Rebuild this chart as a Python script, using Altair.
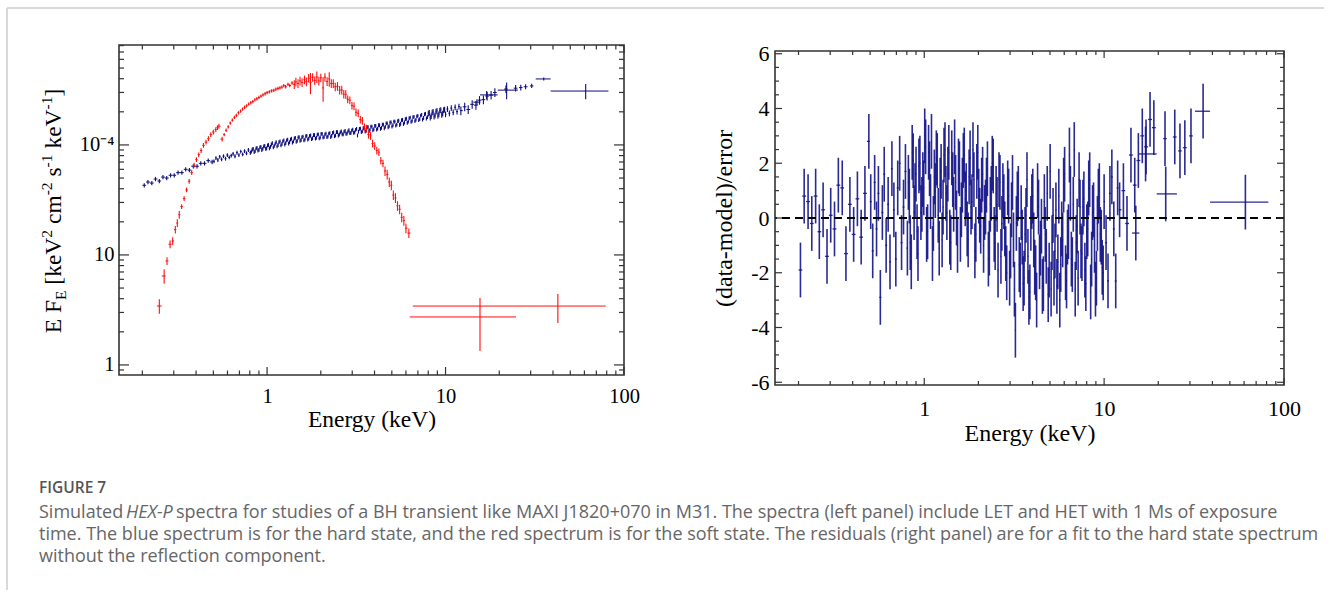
import altair as alt
import numpy as np
import pandas as pd

# ---------------- hard state (blue): LET bins ----------------
hard_E = [
    0.205, 0.215, 0.226, 0.237, 0.249, 0.261, 0.274, 0.288, 0.302, 0.317,
    0.333, 0.350, 0.367, 0.386, 0.405, 0.425, 0.446, 0.468, 0.492,
    0.504, 0.517, 0.530, 0.543, 0.556, 0.570, 0.585, 0.599, 0.614, 0.630,
    0.645, 0.661, 0.678, 0.695, 0.712, 0.730, 0.748, 0.767, 0.786, 0.806,
    0.826, 0.847, 0.868, 0.889, 0.912, 0.934, 0.958, 0.982, 1.006, 1.031,
    1.057, 1.084, 1.111, 1.138, 1.167, 1.196, 1.226, 1.257, 1.288, 1.320,
    1.353, 1.387, 1.422, 1.457, 1.494, 1.531, 1.569, 1.609, 1.649, 1.690,
    1.732, 1.776, 1.820, 1.866, 1.912, 1.960, 2.009, 2.059, 2.111, 2.164,
    2.218, 2.273, 2.330, 2.388, 2.448, 2.509, 2.572, 2.636, 2.702, 2.770,
    2.839, 2.910, 2.983, 3.057, 3.134, 3.212, 3.292, 3.375, 3.459, 3.546,
    3.634, 3.725, 3.818, 3.914, 4.012, 4.112, 4.215, 4.320, 4.428, 4.539,
    4.652, 4.769, 4.888, 5.010, 5.136, 5.264, 5.396, 5.531, 5.669, 5.810,
    5.956, 6.105, 6.257, 6.414, 6.574, 6.738, 6.907, 7.080, 7.257, 7.438,
    7.624, 7.815, 8.010, 8.210, 8.416, 8.626, 8.842, 9.063, 9.289, 9.521,
    9.759, 10.00, 10.25, 10.51, 10.77, 11.04, 11.32, 11.60, 11.89, 12.19,
    12.8, 13.4, 14.1, 14.8, 15.5, 16.3, 17.1, 18.0, 18.9,
]
# E F_E in units of 1e-4 keV^2 cm^-2 s^-1 keV^-1
hard_F = [
    0.43, 0.46, 0.45, 0.49, 0.47, 0.51, 0.50, 0.53, 0.53, 0.56,
    0.56, 0.60, 0.59, 0.64, 0.64, 0.68, 0.68, 0.72, 0.70,
    0.71, 0.76, 0.73, 0.78, 0.74, 0.79, 0.75, 0.81, 0.77, 0.80,
    0.83, 0.79, 0.85, 0.81, 0.87, 0.82, 0.88, 0.84, 0.90, 0.85,
    0.91, 0.86, 0.93, 0.89, 0.95, 0.90, 0.97, 0.92, 0.99, 0.93,
    1.01, 0.95, 1.03, 0.97, 1.06, 0.99, 1.08, 1.01, 1.10, 1.03,
    1.12, 1.05, 1.15, 1.07, 1.17, 1.09, 1.18, 1.10, 1.20, 1.12,
    1.21, 1.13, 1.23, 1.14, 1.24, 1.15, 1.26, 1.17, 1.25, 1.18,
    1.27, 1.18, 1.29, 1.20, 1.31, 1.22, 1.30, 1.25, 1.32, 1.26,
    1.33, 1.28, 1.35, 1.29, 1.37, 1.22, 1.40, 1.31, 1.42, 1.32,
    1.45, 1.34, 1.47, 1.36, 1.49, 1.38, 1.51, 1.40, 1.53, 1.42,
    1.57, 1.45, 1.60, 1.47, 1.63, 1.50, 1.65, 1.52, 1.68, 1.55,
    1.72, 1.59, 1.75, 1.62, 1.79, 1.65, 1.82, 1.68, 1.85, 1.70,
    1.90, 1.74, 1.93, 1.77, 1.97, 1.81, 2.01, 1.84, 2.05, 1.88,
    2.08, 1.90, 2.12, 1.94, 2.16, 1.98, 2.20, 2.01, 2.23, 2.05,
    2.22, 2.10, 2.34, 2.30, 2.55, 2.58, 2.78, 2.84, 3.00,
]
# residuals (data-model)/error for the same bins
hard_res = [
    -1.9, 0.8, 0.6, -0.2, 0.8, -0.5, 0.3, -1.4, 0.1, -0.4,
    1.2, 1.1, -1.3, 0.5, -0.6, 0.7, -0.7, 0.9, 2.8,
    0.6, -1.2, 1.3, -0.4, 0.9, -2.9, 0.2, 1.6, -1.0, 0.5,
    -1.6, 1.8, 0.3, -1.5, 1.1, 2.0, -0.9, 0.4, 1.7, -1.1,
    0.8, -1.6, 2.1, 1.0, -0.5, 1.9, 0.2, 1.4, 3.0, -0.6,
    2.4, 0.6, -1.3, 1.5, 2.2, 0.1, 1.2, -0.8, 2.3, 0.9,
    1.6, -0.7, 2.2, 0.5, 1.3, -1.0, 1.8, 0.3, 2.1, 0.7,
    -0.4, 1.5, 0.4, 2.5, -1.2, 1.7, 0.8, -0.3, 1.6, 0.2,
    1.2, -1.5, 0.5, 2.0, -0.6, 0.9, -1.9, 1.3, -0.2, 0.6,
    -1.3, 1.1, -2.2, 0.3, -0.8, -4.1, 0.7, -1.7, 0.2, -2.4,
    -0.6, 1.4, -2.9, -0.2, 0.8, -1.8, -3.0, 0.4, -1.1, -2.5,
    0.6, -1.4, -2.8, 1.7, -0.9, -2.2, 0.3, -1.6, -3.0, -0.4,
    1.2, -2.0, -0.7, 2.3, -1.5, 0.5, -2.6, -0.3, 1.4, -1.2,
    0.4, -1.9, -0.5, 1.1, -2.7, 0.2, -1.0, -2.2, 0.8, -0.6,
    -1.8, 0.6, -0.9, -2.3, 0.9, 1.5, -0.4, -2.3, 1.1, 0.3,
    1.0, -0.2, 2.3, 1.2, 2.1, 3.0, 2.6, 3.6, 3.3,
]
# second interleaved set of LET bins (densest part of the spectrum)
hard_E2 = [
    0.816, 0.836, 0.857, 0.878, 0.900, 0.923, 0.946, 0.970, 0.994, 1.018,
    1.044, 1.070, 1.097, 1.124, 1.152, 1.181, 1.211, 1.241, 1.272, 1.304,
    1.336, 1.370, 1.404, 1.440, 1.475, 1.512, 1.550, 1.589, 1.629, 1.669,
    1.711, 1.754, 1.798, 1.843, 1.889, 1.936, 1.984, 2.034, 2.085, 2.137,
    2.191, 2.245, 2.301, 2.359, 2.418, 2.478, 2.540, 2.604, 2.669, 2.736,
    2.804, 2.874, 2.946, 3.020, 3.095, 3.173, 3.252, 3.333, 3.417, 3.502,
    3.590, 3.679, 3.771, 3.866, 3.963, 4.062, 4.163, 4.267, 4.374, 4.483,
    4.595, 4.710, 4.828, 4.949, 5.073, 5.200, 5.330, 5.463, 5.600, 5.740,
    5.883, 6.030, 6.181, 6.335, 6.494, 6.656, 6.822, 6.993, 7.168, 7.347,
    7.531, 7.719, 7.912, 8.110, 8.313, 8.521, 8.734, 8.952, 9.176, 9.405,
    9.640, 9.880,
]
hard_F2 = [
    0.87, 0.92, 0.88, 0.94, 0.90, 0.96, 0.92, 0.98, 0.93, 1.00,
    0.96, 1.04, 0.98, 1.06, 1.00, 1.08, 1.02, 1.10, 1.04, 1.12,
    1.06, 1.14, 1.08, 1.16, 1.09, 1.18, 1.11, 1.19, 1.12, 1.21,
    1.14, 1.22, 1.15, 1.23, 1.16, 1.25, 1.17, 1.26, 1.18, 1.27,
    1.19, 1.28, 1.21, 1.30, 1.22, 1.31, 1.24, 1.33, 1.25, 1.34,
    1.27, 1.36, 1.28, 1.38, 1.30, 1.40, 1.32, 1.41, 1.33, 1.43,
    1.35, 1.45, 1.37, 1.47, 1.39, 1.49, 1.41, 1.51, 1.43, 1.53,
    1.46, 1.57, 1.48, 1.60, 1.51, 1.63, 1.53, 1.66, 1.56, 1.69,
    1.60, 1.73, 1.63, 1.77, 1.66, 1.80, 1.69, 1.84, 1.72, 1.88,
    1.76, 1.92, 1.79, 1.96, 1.83, 2.00, 1.86, 2.04, 1.90, 2.08,
    1.93, 2.10,
]
hard_res2 = [
    1.3, -0.9, 2.4, 0.2, 1.6, -1.3, 2.0, 0.5, 1.1, 2.6,
    -0.5, 1.8, 2.8, -0.2, 1.0, 2.1, -1.1, 1.7, 0.4, 2.5,
    0.2, 2.4, -0.9, 1.4, 2.6, 0.0, 1.9, -0.6, 1.2, 2.3,
    1.0, -0.8, 2.2, 0.6, 1.4, -0.6, 2.4, 0.1, 1.2, -1.0,
    0.4, 1.8, -1.1, 0.9, 1.9, -0.9, 0.5, 1.4, -1.4, 1.0,
    -0.4, -2.0, 0.8, -1.2, 1.3, -2.6, -0.2, 0.9, -1.9, -0.7,
    -2.2, 0.1, -1.4, -2.7, 0.6, -0.8, -2.0, 1.0, -1.6, -0.3,
    -2.4, -0.6, 0.9, -1.9, -2.6, 0.1, -1.2, -2.5, 0.8, -1.7,
    -0.8, 1.6, -2.3, -0.5, 0.9, -1.7, 2.5, -0.9, -2.2, 0.4,
    -1.3, 0.7, -2.4, -0.4, 1.4, -1.5, 0.3, -2.6, -0.2, 1.0,
    -0.7, -2.0,
]
# fractional flux errors of the blue spectrum by energy range
hard_err_edges = [0.5, 8.0, 12.0]
hard_err_vals = [0.045, 0.04, 0.06, 0.09]

# hard state: wide high-energy (HET) bins
hard_het_E = [15.0, 17.0, 22.0, 21.8, 24.7, 26.4, 28.1, 30.4, 35.5, 61.0]
hard_het_lo = [14.3, 15.6, 19.6, 21.3, 24.1, 25.8, 27.4, 29.7, 32.0, 38.8]
hard_het_hi = [15.7, 19.6, 25.4, 22.3, 25.3, 27.0, 28.8, 31.1, 38.8, 81.8]
hard_het_F = [2.45, 2.85, 3.15, 3.22, 3.28, 3.32, 3.38, 3.44, 3.98, 3.09]
hard_het_Ferr = [0.15, 0.25, 0.55, 0.25, 0.22, 0.20, 0.18, 0.15, 0.12, 0.49]
hard_het_res = [-0.55, 2.34, 0.88, 2.9, 2.96, 2.45, 2.57, 3.0, 3.9, 0.58]

# ---------------- soft state (red) ----------------
soft_E = [
    0.249, 0.265, 0.275, 0.286, 0.296, 0.306, 0.314, 0.322, 0.332, 0.343,
    0.354, 0.366, 0.378, 0.390, 0.402, 0.414, 0.427, 0.440, 0.455, 0.469,
    0.484, 0.500, 0.516, 0.527, 0.537,
    0.560, 0.575, 0.590, 0.606, 0.622, 0.639, 0.656, 0.673, 0.691, 0.710,
    0.729, 0.748, 0.768, 0.789, 0.810, 0.832, 0.854, 0.877, 0.900, 0.924,
    0.949, 0.975, 1.00, 1.03, 1.06, 1.09, 1.12, 1.15, 1.18, 1.21,
    1.24, 1.27, 1.31, 1.34, 1.38, 1.42, 1.45, 1.49, 1.53, 1.57,
    1.62, 1.66, 1.71, 1.75, 1.80, 1.85, 1.90, 1.95, 2.00, 2.06,
    2.11, 2.17, 2.23, 2.29, 2.35, 2.41, 2.48, 2.55, 2.62, 2.69,
    2.76, 2.83, 2.91, 2.99, 3.07, 3.15, 3.24, 3.33, 3.42, 3.51,
    3.60, 3.70, 3.80, 3.90, 4.01, 4.12, 4.23, 4.34, 4.46, 4.58,
    4.71, 4.84, 4.97, 5.10, 5.24, 5.38, 5.53, 5.68, 5.84, 6.00,
    6.23,
]
soft_F = [
    0.0343, 0.0644, 0.088, 0.125, 0.134, 0.170, 0.195, 0.232, 0.275, 0.325,
    0.390, 0.468, 0.560, 0.655, 0.735, 0.815, 0.890, 0.990, 1.06, 1.14,
    1.24, 1.31, 1.38, 1.44, 1.48,
    1.13, 1.24, 1.36, 1.46, 1.58, 1.68, 1.78, 1.86, 1.96, 2.03,
    2.12, 2.20, 2.27, 2.35, 2.42, 2.48, 2.57, 2.63, 2.70, 2.78,
    2.85, 2.92, 2.99, 3.04, 3.10, 3.14, 3.21, 3.26, 3.30, 3.36,
    3.46, 3.38, 3.56, 3.47, 3.66, 3.55, 3.74, 3.62, 3.82, 3.70,
    3.92, 3.76, 4.05, 3.70, 4.12, 3.85, 4.15, 3.82, 4.08, 3.30,
    4.12, 3.78, 3.98, 3.62, 3.62, 3.38, 3.42, 3.15, 3.16, 2.90,
    2.88, 2.60, 2.55, 2.28, 2.25, 1.98, 1.94, 1.70, 1.66, 1.46,
    1.41, 1.24, 1.21, 1.03, 0.98, 0.89, 0.86, 0.72, 0.68, 0.58,
    0.54, 0.46, 0.43, 0.35, 0.33, 0.28, 0.26, 0.22, 0.205, 0.175,
    0.158,
]
soft_err_edges = [0.27, 0.33, 0.56, 1.4, 2.8, 4.5]
soft_err_vals = [0.15, 0.08, 0.05, 0.035, 0.09, 0.08, 0.10]
soft_err_special_E = [1.75, 1.90, 2.06, 2.23]
soft_err_special = [0.22, 0.12, 0.25, 0.15]

soft_het_E = [15.6, 42.6]
soft_het_lo = [6.3, 6.56]
soft_het_hi = [24.8, 79.0]
soft_het_F = [0.0273, 0.0343]
soft_het_Flo = [0.0134, 0.0241]
soft_het_Fhi = [0.0407, 0.0442]

# ---------------- axes ----------------
x_major = [1, 10, 100]
x_minor = [0.2, 0.3, 0.4, 0.5, 0.6, 0.7, 0.8, 0.9, 2, 3, 4, 5, 6, 7, 8, 9,
           20, 30, 40, 50, 60, 70, 80, 90]
ly_major = [1e-6, 1e-5, 1e-4]
ly_minor = [9e-7, 2e-6, 3e-6, 4e-6, 5e-6, 6e-6, 7e-6, 8e-6, 9e-6,
            2e-5, 3e-5, 4e-5, 5e-5, 6e-5, 7e-5, 8e-5, 9e-5,
            2e-4, 3e-4, 4e-4, 5e-4, 6e-4, 7e-4, 8e-4]
ly_label_expr = "datum.value < 3e-6 ? '1' : datum.value < 3e-5 ? '10' : '10⁻⁴'"
ry_major = [-6, -4, -2, 0, 2, 4, 6]
ry_minor = [-5.5, -5, -4.5, -3.5, -3, -2.5, -1.5, -1, -0.5,
            0.5, 1, 1.5, 2.5, 3, 3.5, 4.5, 5, 5.5]

caption_head = "FIGURE 7"
caption_l1a = "Simulated"
caption_l1b = "HEX-P"
caption_l1c = ("spectra for studies of a BH transient like MAXI J1820+070 in M31. "
               "The spectra (left panel) include LET and HET with 1 Ms of exposure")
caption_l2 = ("time. The blue spectrum is for the hard state, and the red spectrum is for the "
              "soft state. The residuals (right panel) are for a fit to the hard state spectrum")
caption_l3 = "without the reflection component."


# ---------------- helpers ----------------
def bin_edges(E):
    lg = np.log10(np.asarray(E, dtype=float))
    mid = (lg[1:] + lg[:-1]) / 2
    lo = np.concatenate([[lg[0] - (mid[0] - lg[0])], mid])
    hi = np.concatenate([mid, [lg[-1] + (lg[-1] - mid[-1])]])
    return 10 ** lo, 10 ** hi


def seg_err(E, edges, vals):
    idx = np.searchsorted(edges, np.asarray(E, dtype=float))
    return np.asarray(vals)[idx]


SERIF = "Liberation Serif"
BLUE = "#0c0c7e"
RES_BLUE = "#131388"
RED = "#ff0d0d"
TICK = "#333333"

let_df = pd.DataFrame({"E": hard_E + hard_E2, "F": hard_F + hard_F2,
                       "r": hard_res + hard_res2}).sort_values("E").reset_index(drop=True)
lo, hi = bin_edges(let_df["E"])
rel = seg_err(let_df["E"], hard_err_edges, hard_err_vals)
F = let_df["F"].to_numpy() * 1e-4
hard_df = pd.DataFrame({"E": let_df["E"], "lo": lo, "hi": hi, "F": F,
                        "Flo": F * (1 - rel), "Fhi": F * (1 + rel),
                        "r": let_df["r"]})
hard_df["rlo"] = hard_df["r"] - 1
hard_df["rhi"] = hard_df["r"] + 1
hF = np.asarray(hard_het_F) * 1e-4
hE = np.asarray(hard_het_Ferr) * 1e-4
het_df = pd.DataFrame({"E": hard_het_E, "lo": hard_het_lo, "hi": hard_het_hi,
                       "F": hF, "Flo": hF - hE, "Fhi": hF + hE, "r": hard_het_res})
het_df["rlo"] = het_df["r"] - 1
het_df["rhi"] = het_df["r"] + 1
blue_all = pd.concat([hard_df, het_df], ignore_index=True)

slo, shi = bin_edges(soft_E)
srel = seg_err(soft_E, soft_err_edges, soft_err_vals)
for e_sp, r_sp in zip(soft_err_special_E, soft_err_special):
    srel = np.where(np.isclose(soft_E, e_sp), r_sp, srel)
sF = np.asarray(soft_F) * 1e-4
soft_df = pd.DataFrame({"E": soft_E, "lo": slo, "hi": shi, "F": sF,
                        "Flo": sF * (1 - srel), "Fhi": sF * (1 + srel)})
soft_het_df = pd.DataFrame({"E": soft_het_E, "lo": soft_het_lo, "hi": soft_het_hi,
                            "F": np.asarray(soft_het_F) * 1e-4,
                            "Flo": np.asarray(soft_het_Flo) * 1e-4,
                            "Fhi": np.asarray(soft_het_Fhi) * 1e-4})
red_all = pd.concat([soft_df, soft_het_df], ignore_index=True)

DUMMY = alt.Data(values=[{}])

# ---------------- left panel ----------------
WL, HL = 505, 330
lxs = alt.Scale(type="log", domain=[0.148, 100], nice=False)
lys = alt.Scale(type="log", domain=[8.1e-7, 8.1e-4], nice=False)
lx_axis = alt.Axis(values=x_major, format="~g", ticks=False, tickSize=0, domain=False,
                   grid=False, labelFont=SERIF, labelFontSize=20.5, labelColor="black",
                   labelPadding=11, labelFlush=False, labelOverlap=False,
                   title="Energy (keV)", titleFont=SERIF, titleFontSize=23.5,
                   titleFontWeight="normal", titleColor="black", titlePadding=1)
ly_axis = alt.Axis(values=ly_major, labelExpr=ly_label_expr, ticks=False, tickSize=0,
                   domain=False, grid=False, labelFont=SERIF, labelFontSize=20.5,
                   labelColor="black", labelPadding=5, labelFlush=False,
                   labelOverlap=False, title=None)


def spectrum_layers(df, color, xs, ys, xa, ya):
    base = alt.Chart(df)
    h = base.mark_rule(color=color, strokeWidth=1, clip=True).encode(
        x=alt.X("lo:Q", scale=xs, axis=xa), x2="hi:Q",
        y=alt.Y("F:Q", scale=ys, axis=ya))
    v = base.mark_rule(color=color, strokeWidth=1.1, clip=True).encode(
        x=alt.X("E:Q", scale=xs, axis=xa),
        y=alt.Y("Flo:Q", scale=ys, axis=ya), y2="Fhi:Q")
    return [h, v]


def tick_layers(xvals_major, xvals_minor, yvals_major, yvals_minor, xs, ys, xa, ya,
                W, H, xmaj, xmin, ymaj, ymin):
    out = []
    for vals, ln in ((xvals_major, xmaj), (xvals_minor, xmin)):
        d = alt.Chart(pd.DataFrame({"v": vals})).mark_rule(color=TICK, strokeWidth=1.2)
        out.append(d.encode(x=alt.X("v:Q", scale=xs, axis=xa),
                            y=alt.value(H), y2=alt.value(H - ln)))
        out.append(d.encode(x=alt.X("v:Q", scale=xs, axis=xa),
                            y=alt.value(0), y2=alt.value(ln)))
    for vals, ln in ((yvals_major, ymaj), (yvals_minor, ymin)):
        d = alt.Chart(pd.DataFrame({"v": vals})).mark_rule(color=TICK, strokeWidth=1.2)
        out.append(d.encode(y=alt.Y("v:Q", scale=ys, axis=ya),
                            x=alt.value(0), x2=alt.value(ln)))
        out.append(d.encode(y=alt.Y("v:Q", scale=ys, axis=ya),
                            x=alt.value(W - ln), x2=alt.value(W)))
    return out


# composed y-axis title with sub/superscripts (Times metrics)
TIMES = {" ": 250, "E": 611, "F": 556, "[": 333, "]": 333, "k": 500, "e": 444,
         "V": 722, "c": 444, "m": 778, "s": 389, "-": 333, "1": 500, "2": 500}


def tw(s, size):
    return sum(TIMES.get(c, 500) for c in s) / 1000 * size


MAIN, SMALL = 23.5, 15.5
ytitle_parts = [("E F", "m"), ("E", "b"), (" [keV", "m"), ("2", "p"), (" cm", "m"),
                ("-2", "p"), (" s", "m"), ("-1", "p"), (" keV", "m"), ("-1", "p"), ("]", "m")]
sizes = {"m": MAIN, "b": SMALL, "p": SMALL}
shifts = {"m": 0, "b": 5, "p": -9}
total = sum(tw(t, sizes[k]) for t, k in ytitle_parts)
cursor = 166 + total / 2
base_x = -58.5
title_layers = []
for t, k in ytitle_parts:
    sz = sizes[k]
    if t.startswith(" "):
        cursor -= tw(" ", sz)
        t = t.lstrip()
    title_layers.append(
        alt.Chart(DUMMY).mark_text(text=t, angle=270, align="left", baseline="alphabetic",
                                   font=SERIF, fontSize=sz, color="black")
        .encode(x=alt.value(base_x + shifts[k]), y=alt.value(cursor)))
    cursor -= tw(t, sz)

# caption and page frame (drawn relative to the left panel origin)
CAP = "Open Sans"
cap_specs = [
    (caption_head, -80, 443, 15.5, "normal", 600, "#555555"),
    (caption_l1a, -80, 468, 18, "normal", 400, "#666666"),
    (caption_l1b, 7, 468, 18, "italic", 400, "#666666"),
    (caption_l1c, 57, 468, 18, "normal", 400, "#666666"),
    (caption_l2, -80, 490, 18, "normal", 400, "#666666"),
    (caption_l3, -80, 512, 18, "normal", 400, "#666666"),
]
caption_layers = [
    alt.Chart(DUMMY).mark_text(text=t, align="left", baseline="middle", font=CAP,
                               fontSize=fs, fontStyle=st, fontWeight=fw, color=col)
    .encode(x=alt.value(x), y=alt.value(y))
    for t, x, y, fs, st, fw, col in cap_specs
]
frame_layers = [
    alt.Chart(DUMMY).mark_rule(color="#cccccc", strokeWidth=1.5)
    .encode(x=alt.value(-112), x2=alt.value(1205), y=alt.value(-37)),
    alt.Chart(DUMMY).mark_rule(color="#cccccc", strokeWidth=1.5)
    .encode(x=alt.value(-112), y=alt.value(-37), y2=alt.value(545)),
]

left = alt.layer(
    *spectrum_layers(blue_all, BLUE, lxs, lys, lx_axis, ly_axis),
    *spectrum_layers(red_all, RED, lxs, lys, lx_axis, ly_axis),
    *tick_layers(x_major, x_minor, ly_major, ly_minor, lxs, lys, lx_axis, ly_axis,
                 WL, HL, 8, 4.5, 10, 5),
    *title_layers, *caption_layers, *frame_layers,
).properties(width=WL, height=HL)

# ---------------- right panel ----------------
WR, HR = 509, 334
rxs = alt.Scale(type="log", domain=[0.148, 100], nice=False)
rys = alt.Scale(type="linear", domain=[-6.1, 6.1], nice=False, zero=False)
rx_axis = alt.Axis(values=x_major, format="~g", ticks=False, tickSize=0, domain=False,
                   grid=False, labelFont=SERIF, labelFontSize=22, labelColor="black",
                   labelPadding=13, labelFlush=False, labelOverlap=False,
                   title="Energy (keV)", titleFont=SERIF, titleFontSize=24,
                   titleFontWeight="normal", titleColor="black", titlePadding=2)
ry_axis = alt.Axis(values=ry_major,
                   labelExpr="datum.value < 0 ? '-' + abs(datum.value) : '' + datum.value",
                   ticks=False, tickSize=0, domain=False, grid=False, labelFont=SERIF,
                   labelFontSize=22, labelColor="black", labelPadding=6,
                   labelFlush=False, labelOverlap=False,
                   title="(data-model)/error", titleFont=SERIF, titleFontSize=24,
                   titleFontWeight="normal", titleColor="black", titlePadding=14)

res_base = alt.Chart(blue_all)
res_v = res_base.mark_rule(color=RES_BLUE, strokeWidth=1.6, opacity=0.9, clip=True).encode(
    x=alt.X("E:Q", scale=rxs, axis=rx_axis),
    y=alt.Y("rlo:Q", scale=rys, axis=ry_axis), y2="rhi:Q")
res_h = res_base.mark_rule(color=RES_BLUE, strokeWidth=1.3, opacity=0.9, clip=True).encode(
    x=alt.X("lo:Q", scale=rxs, axis=rx_axis), x2="hi:Q",
    y=alt.Y("r:Q", scale=rys, axis=ry_axis))
zero_line = alt.Chart(pd.DataFrame({"z": [0]})).mark_rule(
    color="black", strokeWidth=2, strokeDash=[8, 5]).encode(
    y=alt.Y("z:Q", scale=rys, axis=ry_axis))

right = alt.layer(
    res_v, res_h, zero_line,
    *tick_layers(x_major, x_minor, ry_major, ry_minor, rxs, rys, rx_axis, ry_axis,
                 WR, HR, 7, 4, 7, 4),
).properties(width=WR, height=HR)

spacer = alt.Chart(DUMMY).mark_rule(opacity=0).encode(
    x=alt.value(0), y=alt.value(0)
).properties(width=WR, height=6, view=alt.ViewBackground(stroke="transparent"))

right_col = alt.vconcat(spacer, right, spacing=0, bounds="flush")

chart = alt.hconcat(left, right_col, spacing=151, bounds="flush").properties(
    padding={"left": 5, "top": 6, "right": 0, "bottom": 0},
    background="white",
).configure_view(stroke="#333333", strokeWidth=1.6)

chart.save("out.html", embed_options={"renderer": "svg", "actions": False})
